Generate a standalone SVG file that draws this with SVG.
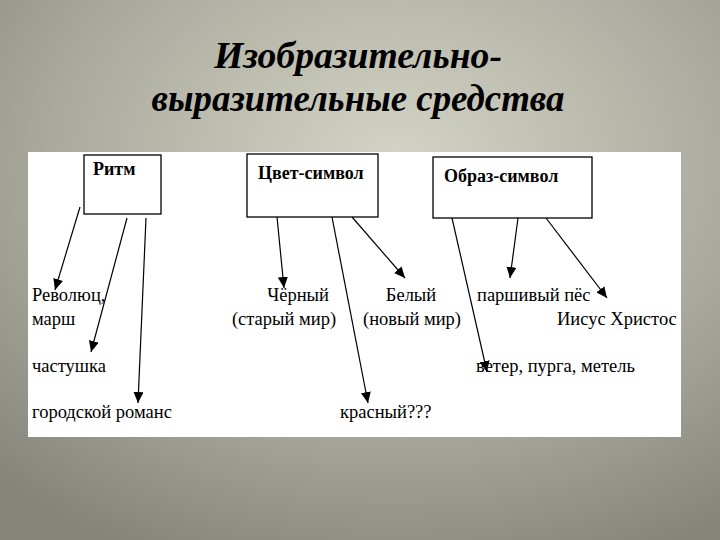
<svg xmlns="http://www.w3.org/2000/svg" width="720" height="540" viewBox="0 0 720 540">
<defs>
<radialGradient id="bg" cx="0.55" cy="0.3" r="0.8">
<stop offset="0" stop-color="#d4d4c6"/>
<stop offset="0.6" stop-color="#a9a99d"/>
<stop offset="1" stop-color="#85857c"/>
</radialGradient>
<marker id="ah" markerUnits="userSpaceOnUse" markerWidth="12" markerHeight="10" refX="11" refY="5" orient="auto">
<path d="M0,0 L11,5 L0,10 Z" fill="#000"/>
</marker>
</defs>
<style>
.title{font-family:"Liberation Serif","DejaVu Serif",serif;font-style:italic;font-weight:bold;font-size:37px;fill:#000;}
.box{fill:#fff;stroke:#000;stroke-width:1.3;}
.head{font-family:"Liberation Serif","DejaVu Serif",serif;font-weight:bold;font-size:18px;fill:#000;}
.lbl{font-family:"Liberation Serif","DejaVu Serif",serif;font-size:18.5px;fill:#000;}
.con line{stroke:#000;stroke-width:1.2;marker-end:url(#ah);}
</style>
<rect x="0" y="0" width="720" height="540" fill="url(#bg)"/>
<g id="title">
<text class="title" x="358" y="68" text-anchor="middle" textLength="288" lengthAdjust="spacingAndGlyphs">Изобразительно-</text>
<text class="title" x="358" y="111" text-anchor="middle" textLength="413" lengthAdjust="spacingAndGlyphs">выразительные средства</text>
</g>
<rect x="28" y="152" width="653" height="285" fill="#fff"/>
<g id="node-ritm">
<rect class="box" x="84" y="155" width="77" height="59"/>
<text class="head" x="93" y="175">Ритм</text>
</g>
<g id="node-cvet">
<rect class="box" x="247" y="154" width="131" height="63"/>
<text class="head" x="258" y="179">Цвет-символ</text>
</g>
<g id="node-obraz">
<rect class="box" x="433" y="157" width="159" height="61"/>
<text class="head" x="444" y="182">Образ-символ</text>
</g>
<g id="lbl-revol"><text class="lbl" x="32" y="301">Революц,</text><text class="lbl" x="32" y="325">марш</text></g>
<g id="lbl-chast"><text class="lbl" x="32" y="372">частушка</text></g>
<g id="lbl-gorod"><text class="lbl" x="32" y="418">городской романс</text></g>
<g id="lbl-cherny"><text class="lbl" x="298" y="301" text-anchor="middle">Чёрный</text><text class="lbl" x="284" y="325" text-anchor="middle">(старый мир)</text></g>
<g id="lbl-bely"><text class="lbl" x="411" y="301" text-anchor="middle">Белый</text><text class="lbl" x="412" y="325" text-anchor="middle">(новый  мир)</text></g>
<g id="lbl-krasny"><text class="lbl" x="340" y="418">красный???</text></g>
<g id="lbl-pes"><text class="lbl" x="477" y="301">паршивый пёс</text></g>
<g id="lbl-iisus"><text class="lbl" x="557" y="325">Иисус Христос</text></g>
<g id="lbl-veter"><text class="lbl" x="476" y="372">ветер, пурга, метель</text></g>
<g id="connectors" class="con">
<line x1="80" y1="207" x2="55" y2="290"/>
<line x1="127" y1="218" x2="91" y2="352"/>
<line x1="146" y1="218" x2="138" y2="403"/>
<line x1="277" y1="217" x2="284" y2="288"/>
<line x1="332" y1="217" x2="368" y2="403"/>
<line x1="352" y1="217" x2="405" y2="278"/>
<line x1="452" y1="218" x2="487" y2="372"/>
<line x1="518" y1="218" x2="510" y2="278"/>
<line x1="546" y1="218" x2="607" y2="298"/>
</g>
</svg>
